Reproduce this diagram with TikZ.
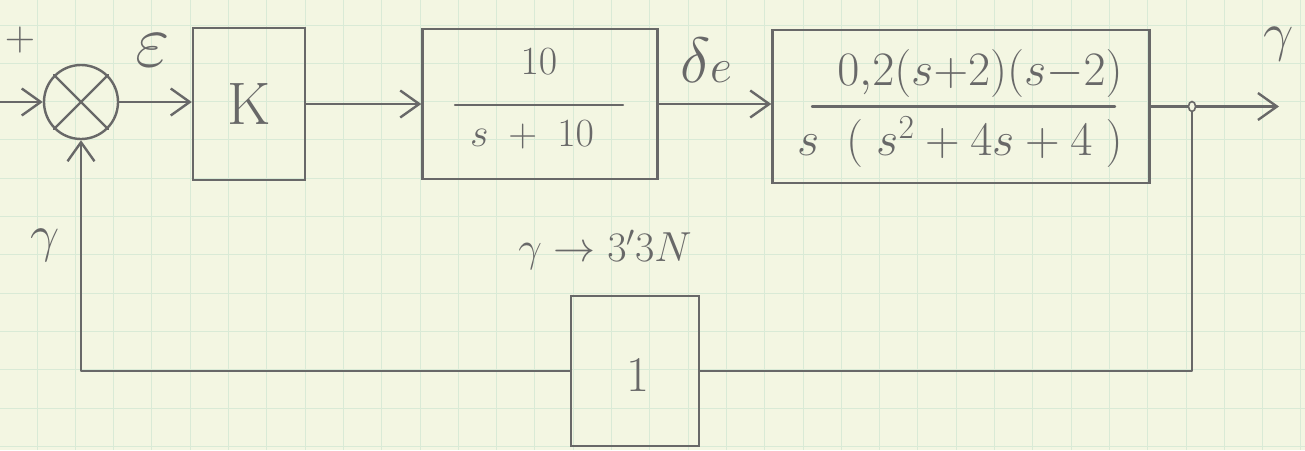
\RequirePackage{fix-cm}
\documentclass[tikz,border=0pt]{standalone}
\usetikzlibrary{arrows.meta}
\definecolor{paper}{HTML}{F3F6E2}
\definecolor{gridc}{HTML}{D9EAD6}
\definecolor{ink}{HTML}{686868}
\tikzset{
  wire/.style={draw=ink, line width=2.4pt, line cap=round, line join=round},
  arr/.style={wire, -{Straight Barb[length=19pt,width=27pt]}},
  blk/.style={draw=ink, line width=2.4pt, rectangle, inner sep=0pt, text=ink},
  hw/.style={text=ink, inner sep=0pt, font=\fontsize{#1}{#1}\selectfont},
}
\begin{document}
\begin{tikzpicture}[x=1pt,y=-1pt]
\useasboundingbox (0,0) rectangle (1305,450);
\fill[paper] (0,0) rectangle (1305,450);
\foreach \i in {0,...,33} \draw[gridc, line width=1pt] ({37+38.3*\i},0) -- ++(0,450);
\foreach \j in {0,...,11} \draw[gridc, line width=1pt] (0,{25+38.3*\j}) -- ++(1305,0);

% summing junction
\node[blk, circle, minimum size=74pt] (sum) at (81,102) {};
\draw[wire] (sum.north west) -- (sum.south east);
\draw[wire] (sum.south west) -- (sum.north east);

% blocks
\node[blk, minimum width=112pt, minimum height=152pt, hw=60] (K) at (249,104) {K};
\node[blk, minimum width=235pt, minimum height=150pt] (G1) at (540,104) {};
\node[hw=40] (n1) at (539,62) {$10$};
\draw[wire] (455,105) -- (623,105);
\node[hw=40] (d1) at (532,135) {$s\;+\;10$};

\node[blk, minimum width=377pt, minimum height=153pt] (G2) at (961,106.5) {};
\node[hw=48] (n2) at (980,73) {$0{,}2(s{+}2)(s{-}2)$};
\draw[wire] (812,106.5) -- (1115,106.5);
\node[hw=48] (d2) at (960,142) {$s\;\;(\;s^{2}+4s+4\;)$};

\node[blk, minimum width=128pt, minimum height=150pt] (H) at (635,371) {};
\node[hw=50] (h1) at (638,375) {$1$};

% coordinates
\coordinate (in) at (0,102);
\coordinate (out) at (1279,106.5);
\coordinate (br) at (1192,106.5);

% connectors
\draw[arr] (in) -- (sum.west);
\draw[arr] (sum.east) -- (sum.east -| K.west);
\draw[arr] (K.east) -- (K.east -| G1.west);
\draw[arr] (G1.east) -- (G1.east -| G2.west);
\draw[arr] (G2.east) -- (out);
\draw[wire] (br) |- (H.east);
\draw[arr] (H.west) -| (sum.south);
\draw[ink, line width=1.6pt, fill=paper] (br) ellipse (3.5pt and 5pt);

% labels
\node[hw=42] (plus) at (20,40) {$+$};
\node[hw=75] (eps) at (153,50) {$\varepsilon$};
\node[hw=64] (de) at (706,60) {$\delta$\fontsize{48}{48}\selectfont$e$};
\node[hw=54] (yout) at (1279,44) {$\gamma$};
\node[hw=52] (yfb) at (45,245) {$\gamma$};
\node[hw=42] (note) at (605,250) {$\gamma\rightarrow 3'3N$};
\end{tikzpicture}
\end{document}
